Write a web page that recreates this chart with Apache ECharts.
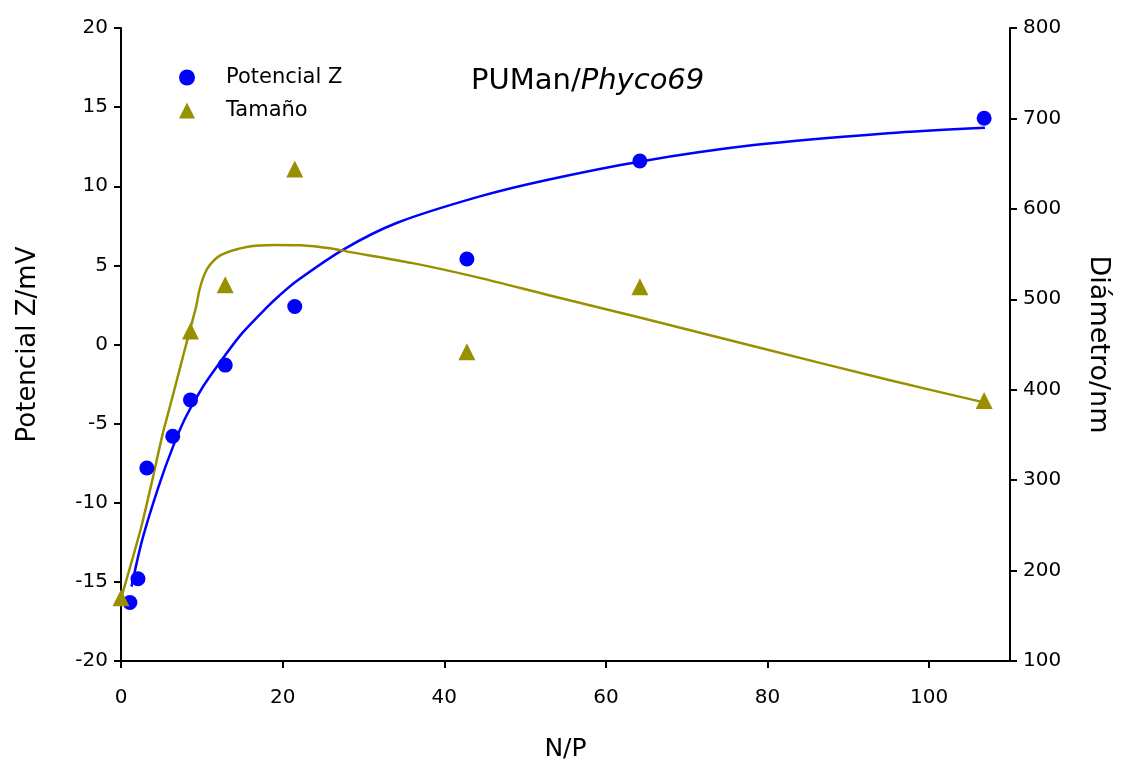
<!DOCTYPE html>
<html>
<head>
<meta charset="utf-8">
<script src="https://cdn.jsdelivr.net/npm/echarts@6/dist/echarts.min.js"></script>
<style>html,body{margin:0;padding:0;background:#fff}#c{width:1121px;height:767px}</style>
</head>
<body>
<div id="c"></div>
<script>
// Measured points
var zetaNP   = [1.1, 2.1, 3.2, 6.4, 8.6, 12.9, 21.5, 42.8, 64.2, 106.8];
var zetaVal  = [-16.3, -14.8, -7.8, -5.8, -3.5, -1.3, 2.4, 5.4, 11.6, 14.3];
var sizeNP   = [0, 8.6, 12.9, 21.5, 42.8, 64.2, 106.8];
var sizeVal  = [170, 465, 516, 644, 442, 514, 388];
// Fitted curves
var zetaFitX = [1.3, 2.65, 4.7, 6.4, 8.0, 10.1, 13.0, 15.05, 17.95, 19.6, 21.7, 27.5, 34.1, 44.4, 52.7, 64.3, 78.3, 94.9, 106.9];
var zetaFitY = [-15.3, -12.3, -8.9, -6.5, -4.6, -2.7, -0.6, 0.75, 2.3, 3.1, 4.0, 6.0, 7.68, 9.36, 10.4, 11.57, 12.6, 13.35, 13.7];
var sizeFitX = [0.1, 2.44, 3.9, 5.1, 6.4, 8.0, 8.65, 9.3, 9.7, 10.3, 11.0, 12.4, 15.7, 19.0, 22.3, 26.4, 27.9, 36.1, 44.4, 52.7, 64.3, 78.3, 94.9, 106.9];
var sizeFitY = [172, 246, 301, 349, 393, 448, 470, 492, 510, 527, 538, 549, 558, 560, 559.7, 555.7, 553, 540, 523.7, 505, 479.5, 448, 411, 385.7];
var xTicks = [0, 20, 40, 60, 80, 100];

function zip(a, b) { return a.map(function (v, i) { return [v, b[i]]; }); }

var BLUE = '#0000ff', OLIVE = '#999000';
var FONT = 'DejaVu Sans';
var axisLine = { show: true, onZero: false, lineStyle: { color: '#000', width: 2 } };
var axisTick = { show: true, inside: false, length: 7, lineStyle: { color: '#000', width: 2 } };

var chart = echarts.init(document.getElementById('c'));
chart.setOption({
  animation: false,
  backgroundColor: '#fff',
  grid: { left: 121, right: 111, top: 28, bottom: 105, containLabel: false },
  xAxis: {
    type: 'value', min: 0, max: 110, interval: 20,
    name: 'N/P', nameLocation: 'middle', nameGap: 76,
    nameTextStyle: { fontFamily: FONT, fontSize: 25, color: '#000' },
    axisLine: axisLine, splitLine: { show: false },
    axisLabel: { fontFamily: FONT, fontSize: 20, color: '#000', margin: 27, customValues: xTicks },
    axisTick: { show: true, inside: false, length: 7, lineStyle: { color: '#000', width: 2 }, customValues: xTicks }
  },
  yAxis: [{
    type: 'value', min: -20, max: 20, interval: 5, position: 'left',
    name: 'Potencial Z/mV', nameLocation: 'middle', nameGap: 80,
    nameTextStyle: { fontFamily: FONT, fontSize: 26, color: '#000' },
    axisLine: axisLine, axisTick: axisTick, splitLine: { show: false },
    axisLabel: { fontFamily: FONT, fontSize: 20, color: '#000', margin: 13 }
  }, {
    type: 'value', min: 100, max: 800, interval: 100, position: 'right',
    name: 'Diámetro/nm', nameLocation: 'middle', nameGap: 75, nameRotate: -90,
    nameTextStyle: { fontFamily: FONT, fontSize: 27, color: '#000' },
    axisLine: axisLine, axisTick: axisTick, splitLine: { show: false },
    axisLabel: { fontFamily: FONT, fontSize: 20, color: '#000', margin: 13 }
  }],
  legend: {
    left: 174, top: 62, orient: 'vertical', itemGap: 12, itemWidth: 16, itemHeight: 16,
    textStyle: { fontFamily: FONT, fontSize: 21, color: '#000', padding: [0, 0, 0, 26] },
    data: [{ name: 'Potencial Z', icon: 'circle' }, { name: 'Tamaño', icon: 'triangle' }]
  },
  graphic: [{
    type: 'text', left: 471, top: 67,
    style: {
      rich: {
        a: { fontFamily: FONT, fontSize: 29, fill: '#000' },
        b: { fontFamily: FONT, fontSize: 29, fill: '#000', fontStyle: 'italic' }
      },
      text: '{a|PUMan/}{b|Phyco69}'
    }
  }],
  series: [{
    name: 'fitZ', type: 'line', yAxisIndex: 0, data: zip(zetaFitX, zetaFitY),
    smooth: 0.3, showSymbol: false, lineStyle: { color: BLUE, width: 2.5 }, silent: true, z: 2
  }, {
    name: 'fitS', type: 'line', yAxisIndex: 1, data: zip(sizeFitX, sizeFitY),
    smooth: 0.25, showSymbol: false, lineStyle: { color: OLIVE, width: 2.5 }, silent: true, z: 2
  }, {
    name: 'Potencial Z', type: 'scatter', yAxisIndex: 0, data: zip(zetaNP, zetaVal),
    symbol: 'circle', symbolSize: 15, itemStyle: { color: BLUE, opacity: 1 }, z: 3
  }, {
    name: 'Tamaño', type: 'scatter', yAxisIndex: 1, data: zip(sizeNP, sizeVal),
    symbol: 'triangle', symbolSize: 17, itemStyle: { color: OLIVE, opacity: 1 }, z: 3
  }]
});
</script>
</body>
</html>
